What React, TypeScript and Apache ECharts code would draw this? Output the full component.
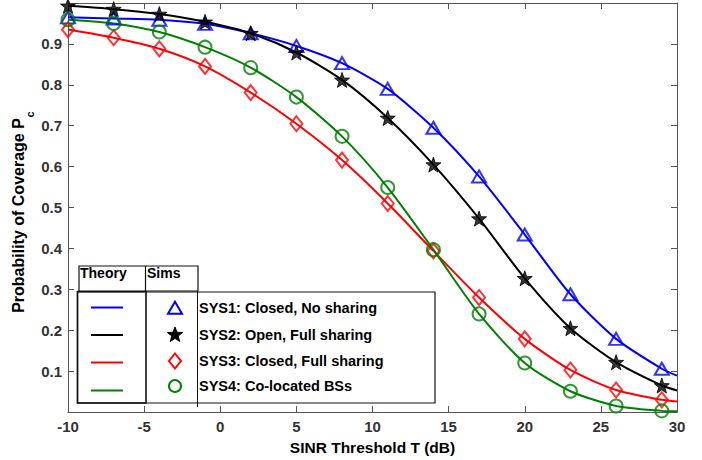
import React, { useEffect, useRef } from "react";
import * as echarts from "echarts";

// ---- data ----
const xSims = [-10, -7, -4, -1, 2, 5, 8, 11, 14, 17, 20, 23, 26, 29];
const xTheory = [-10, -7, -4, -1, 2, 5, 8, 11, 14, 17, 20, 23, 26, 29, 30];

const sys1Sims = [0.965, 0.962, 0.959, 0.949, 0.926, 0.895, 0.853, 0.79, 0.695, 0.576, 0.434, 0.288, 0.179, 0.106];
const sys2Sims = [0.993, 0.985, 0.973, 0.954, 0.926, 0.879, 0.812, 0.719, 0.605, 0.473, 0.327, 0.205, 0.122, 0.065];
const sys3Sims = [0.935, 0.915, 0.888, 0.845, 0.781, 0.705, 0.616, 0.51, 0.394, 0.28, 0.179, 0.103, 0.054, 0.03];
const sys4Sims = [0.959, 0.95, 0.929, 0.892, 0.842, 0.77, 0.674, 0.549, 0.397, 0.24, 0.12, 0.051, 0.015, 0.003];

const sys1Theory = [0.965, 0.962, 0.959, 0.949, 0.926, 0.895, 0.853, 0.79, 0.695, 0.576, 0.434, 0.288, 0.179, 0.106, 0.089];
const sys2Theory = [0.993, 0.985, 0.973, 0.954, 0.926, 0.879, 0.812, 0.719, 0.605, 0.473, 0.327, 0.205, 0.122, 0.065, 0.053];
const sys3Theory = [0.935, 0.915, 0.888, 0.845, 0.781, 0.705, 0.616, 0.51, 0.394, 0.28, 0.179, 0.103, 0.054, 0.03, 0.026];
const sys4Theory = [0.959, 0.95, 0.929, 0.892, 0.842, 0.77, 0.674, 0.549, 0.397, 0.24, 0.12, 0.051, 0.015, 0.003, 0.002];

const seriesNames = [
  "SYS1: Closed, No sharing",
  "SYS2: Open, Full sharing",
  "SYS3: Closed, Full sharing",
  "SYS4: Co-located BSs",
];
const legendHeaders = ["Theory", "Sims"];
const xAxisName = "SINR Threshold T (dB)";
const yAxisName = "Probability of Coverage P";
const yAxisSub = "c";

const colors = ["#0000ff", "#000000", "#ff0000", "#008000"];
const STAR =
  "path://M0,-10L2.35,-3.24L9.51,-3.09L3.8,1.24L5.88,8.09L0,4.3L-5.88,8.09L-3.8,1.24L-9.51,-3.09L-2.35,-3.24Z";

const pair = (xs: number[], ys: number[]) => xs.map((x, i) => [x, ys[i]]);

function starPoints(cx: number, cy: number, R: number) {
  const pts: number[][] = [];
  for (let i = 0; i < 10; i++) {
    const r = i % 2 === 0 ? R : R * 0.42;
    const a = -Math.PI / 2 + (i * Math.PI) / 5;
    pts.push([cx + r * Math.cos(a), cy + r * Math.sin(a)]);
  }
  return pts;
}

export default function App() {
  const ref = useRef<HTMLDivElement>(null);
  useEffect(() => {
    if (!ref.current) return;
    const chart = echarts.init(ref.current, undefined, { renderer: "svg" });
    const font = "Liberation Sans, Arial, Helvetica, sans-serif";
    const axisColor = "#555";
    const labelStyle = {
      fontFamily: font,
      fontWeight: "bold" as const,
      fontSize: 15,
      color: "#333",
    };
    const theory = [sys1Theory, sys2Theory, sys3Theory, sys4Theory];
    const sims = [sys1Sims, sys2Sims, sys3Sims, sys4Sims];
    const symbols: any[] = ["triangle", STAR, "diamond", "circle"];
    const symbolSizes: any[] = [[14, 12], 15, [12, 15], 13];

    const series: any[] = [];
    theory.forEach((t, i) => {
      series.push({
        type: "line",
        name: seriesNames[i] + " (Theory)",
        data: pair(xTheory, t),
        showSymbol: false,
        smooth: 0.25,
        lineStyle: { color: colors[i], width: 2 },
        z: 2,
      });
    });
    sims.forEach((s, i) => {
      series.push({
        type: "scatter",
        name: seriesNames[i] + " (Sims)",
        data: pair(xSims, s),
        symbol: symbols[i],
        symbolSize: symbolSizes[i],
        itemStyle:
          i === 1
            ? { color: "#000", borderColor: "#000", borderWidth: 1 }
            : { color: "rgba(255,255,255,0)", borderColor: colors[i], borderWidth: 2 },
        z: 3,
      });
    });

    // legend graphics
    const rowY = [307.7, 334.5, 361, 386];
    const lineY = [307.5, 335, 362.5, 390.5];
    const g: any[] = [];
    g.push({
      type: "rect",
      shape: { x: 77.5, y: 292, width: 357.5, height: 111 },
      style: { fill: "#fff", stroke: "#111", lineWidth: 1.2 },
      z: 100,
    });
    g.push({
      type: "rect",
      shape: { x: 77.5, y: 291.5, width: 68.5, height: 111.5 },
      style: { fill: "none", stroke: "#111", lineWidth: 1.6 },
      z: 101,
    });
    g.push({
      type: "rect",
      shape: { x: 79, y: 266, width: 119, height: 25 },
      style: { fill: "#fff", stroke: "#111", lineWidth: 1.2 },
      z: 101,
    });
    g.push({
      type: "line",
      shape: { x1: 145.5, y1: 266, x2: 145.5, y2: 291 },
      style: { stroke: "#111", lineWidth: 1.2 },
      z: 102,
    });
    g.push({
      type: "line",
      shape: { x1: 197.5, y1: 291, x2: 197.5, y2: 407 },
      style: { stroke: "#111", lineWidth: 1 },
      z: 102,
    });
    g.push({
      type: "text",
      x: 80,
      y: 273,
      style: { text: legendHeaders[0], font: `bold 14px ${font}`, fill: "#000", textVerticalAlign: "middle" },
      z: 103,
    });
    g.push({
      type: "text",
      x: 147,
      y: 273,
      style: { text: legendHeaders[1], font: `bold 14px ${font}`, fill: "#000", textVerticalAlign: "middle" },
      z: 103,
    });
    seriesNames.forEach((n, i) => {
      g.push({
        type: "line",
        shape: { x1: 91, y1: lineY[i], x2: 123, y2: lineY[i] },
        style: { stroke: colors[i], lineWidth: 2 },
        z: 103,
      });
      g.push({
        type: "text",
        x: 199,
        y: rowY[i],
        style: { text: n, font: `bold 14.5px ${font}`, fill: "#000", textVerticalAlign: "middle" },
        z: 103,
      });
    });
    const mx = 175;
    g.push({
      type: "polygon",
      shape: { points: [[168, rowY[0] + 6], [182, rowY[0] + 6], [175, rowY[0] - 6]] },
      style: { fill: "none", stroke: colors[0], lineWidth: 2 },
      z: 103,
    });
    g.push({
      type: "polygon",
      shape: { points: starPoints(mx, rowY[1] + 0.5, 8) },
      style: { fill: "#000", stroke: "#000", lineWidth: 1 },
      z: 103,
    });
    g.push({
      type: "polygon",
      shape: { points: [[mx, rowY[2] - 7.5], [mx + 6, rowY[2]], [mx, rowY[2] + 7.5], [mx - 6, rowY[2]]] },
      style: { fill: "none", stroke: colors[2], lineWidth: 2 },
      z: 103,
    });
    g.push({
      type: "circle",
      shape: { cx: mx, cy: rowY[3], r: 6 },
      style: { fill: "none", stroke: colors[3], lineWidth: 2 },
      z: 103,
    });
    // y axis name
    g.push({
      type: "text",
      x: 18,
      y: 215.5,
      rotation: Math.PI / 2,
      style: {
        text: yAxisName,
        font: `bold 16px ${font}`,
        fill: "#000",
        textAlign: "center",
        textVerticalAlign: "middle",
      },
      z: 50,
    });
    g.push({
      type: "text",
      x: 29.5,
      y: 114.5,
      rotation: Math.PI / 2,
      style: {
        text: yAxisSub,
        font: `bold 11px ${font}`,
        fill: "#000",
        textAlign: "center",
        textVerticalAlign: "middle",
      },
      z: 50,
    });

    const baseX = {
      type: "value" as const,
      min: -10,
      max: 30,
      interval: 5,
      axisLine: { show: true, onZero: false, lineStyle: { color: axisColor, width: 1 } },
      axisTick: { show: true, inside: true, length: 6, lineStyle: { color: axisColor } },
      splitLine: { show: false },
    };
    const baseY = {
      type: "value" as const,
      min: 0,
      max: 1,
      interval: 0.1,
      axisLine: { show: true, onZero: false, lineStyle: { color: axisColor, width: 1 } },
      axisTick: { show: true, inside: true, length: 6, lineStyle: { color: axisColor } },
      splitLine: { show: false },
    };

    chart.setOption({
      animation: false,
      backgroundColor: "#fff",
      grid: { left: 68, right: 25, top: 3, bottom: 47, containLabel: false },
      xAxis: [
        {
          ...baseX,
          position: "bottom",
          name: xAxisName,
          nameLocation: "middle",
          nameGap: 22,
          nameTextStyle: { fontFamily: font, fontWeight: "bold", fontSize: 15.5, color: "#000" },
          axisLabel: { ...labelStyle, margin: 7 },
        },
        { ...baseX, position: "top", axisLabel: { show: false } },
      ],
      yAxis: [
        {
          ...baseY,
          position: "left",
          axisLabel: {
            ...labelStyle,
            margin: 6,
            showMinLabel: false,
            showMaxLabel: false,
            formatter: (v: number) => v.toFixed(1),
          },
        },
        { ...baseY, position: "right", axisLabel: { show: false } },
      ],
      series,
      graphic: { elements: g },
    });
    return () => chart.dispose();
  }, []);
  return (
    <div
      ref={ref}
      style={{ position: "fixed", left: 0, top: 0, width: 702, height: 460, background: "#fff" }}
    />
  );
}
